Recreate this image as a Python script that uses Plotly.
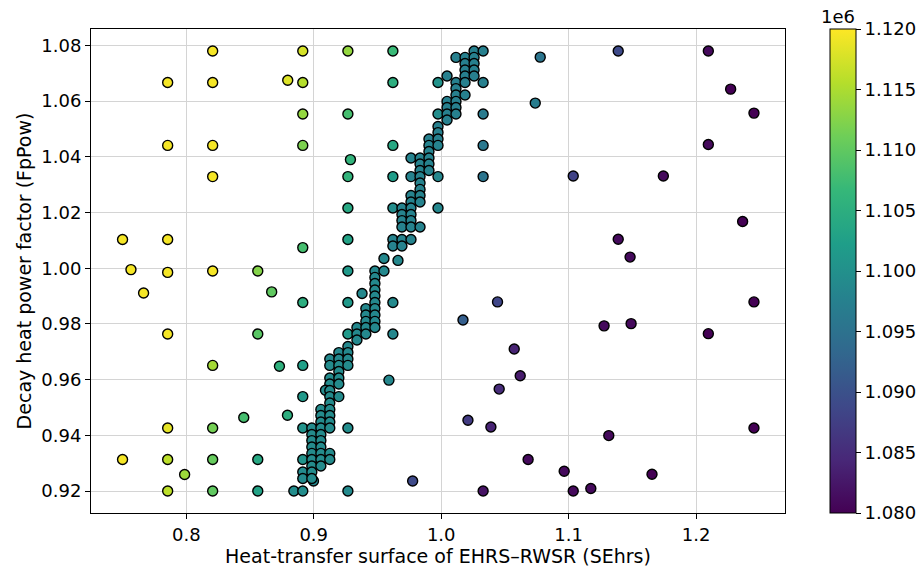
import plotly.graph_objects as go

# ---- data (z values in units of 1e6) ----
outer_x = [0.8207, 0.8914, 0.7854, 0.8207, 0.8796, 0.8914, 0.8914, 0.7854, 0.8207, 0.8914,
           0.8207, 0.7500, 0.7854, 0.8914, 0.7566, 0.7854, 0.8207, 0.8561, 0.7665, 0.8670,
           0.8914, 0.7854, 0.8561, 0.8207, 0.8731, 0.8914, 0.8914, 0.8451, 0.8794, 0.7854,
           0.8207, 0.8914, 0.7500, 0.7854, 0.8207, 0.8561, 0.8914, 0.7987, 0.7854, 0.8207,
           0.8561, 0.8844, 0.8914, 0.8914, 0.8914, 0.8998,
           0.9268, 0.9268, 0.9288, 0.9268, 0.9268, 0.9268, 0.9268, 0.9268, 0.9268, 0.9268, 0.9268,
           0.9621, 0.9621, 0.9621, 0.9621, 0.9621, 0.9621, 0.9621, 0.9590,
           0.9975, 0.9975, 0.9975, 0.9975,
           1.0329, 1.0329, 1.0329, 1.0329, 1.0329,
           1.0777, 1.0738, 1.1389, 1.2096, 1.2271, 1.2454, 1.2096, 1.1036, 1.1743, 1.2365,
           1.1389, 1.1482, 1.2454, 1.1278, 1.1490, 1.2096, 1.0442, 1.0171, 1.0573, 1.0620,
           1.0455, 1.0210, 1.0390, 1.0682, 0.9776, 1.1315, 1.2454, 1.0965, 1.1036, 1.1174, 1.1654]
outer_y = [1.0780, 1.0780, 1.0667, 1.0667, 1.0675, 1.0667, 1.0554, 1.0441, 1.0441, 1.0441,
           1.0329, 1.0103, 1.0103, 1.0074, 0.9995, 0.9985, 0.9990, 0.9990, 0.9911, 0.9915,
           0.9877, 0.9764, 0.9764, 0.9651, 0.9648, 0.9651, 0.9539, 0.9464, 0.9472, 0.9426,
           0.9426, 0.9426, 0.9313, 0.9313, 0.9313, 0.9313, 0.9313, 0.9259, 0.9200, 0.9200,
           0.9200, 0.9200, 0.9200, 0.9268, 0.9245, 0.9236,
           1.0780, 1.0554, 1.0390, 1.0329, 1.0216, 1.0103, 0.9990, 0.9877, 0.9764, 0.9426, 0.9200,
           1.0780, 1.0667, 1.0441, 1.0329, 1.0216, 0.9877, 0.9764, 0.9598,
           1.0667, 1.0554, 1.0329, 1.0216,
           1.0667, 1.0554, 1.0441, 1.0329, 0.9200,
           1.0758, 1.0593, 1.0780, 1.0780, 1.0643, 1.0557, 1.0444, 1.0331, 1.0331, 1.0168,
           1.0104, 1.0040, 0.9879, 0.9793, 0.9801, 0.9765, 0.9879, 0.9814, 0.9710, 0.9614,
           0.9566, 0.9454, 0.9430, 0.9313, 0.9236, 0.9399, 0.9426, 0.9271, 0.9200, 0.9209, 0.9260]
outer_z = [1.1195, 1.1175, 1.1195, 1.1195, 1.1180, 1.1155, 1.1135, 1.1195, 1.1195, 1.1120,
           1.1195, 1.1195, 1.1195, 1.1080, 1.1195, 1.1195, 1.1195, 1.1125, 1.1195, 1.1100,
           1.1050, 1.1195, 1.1095, 1.1145, 1.1055, 1.1025, 1.1015, 1.1080, 1.1050, 1.1185,
           1.1115, 1.1005, 1.1195, 1.1160, 1.1105, 1.1040, 1.1005, 1.1140, 1.1160, 1.1100,
           1.1030, 1.0995, 1.0995, 1.0990, 1.0990, 1.0985,
           1.1135, 1.1080, 1.1060, 1.1060, 1.1040, 1.1030, 1.1015, 1.1015, 1.1015, 1.0995, 1.0990,
           1.1070, 1.1050, 1.1040, 1.1020, 1.0995, 1.0990, 1.0985, 1.0985,
           1.1005, 1.0995, 1.0985, 1.0985,
           1.0975, 1.0965, 1.0960, 1.0955, 1.0820,
           1.0955, 1.0970, 1.0890, 1.0810, 1.0800, 1.0800, 1.0810, 1.0880, 1.0810, 1.0800,
           1.0810, 1.0810, 1.0800, 1.0810, 1.0810, 1.0800, 1.0885, 1.0920, 1.0840, 1.0830,
           1.0850, 1.0870, 1.0840, 1.0810, 1.0890, 1.0810, 1.0800, 1.0810, 1.0810, 1.0810, 1.0800]

# dense Pareto-like band, grouped from top to bottom
band_top_x = [1.0258, 1.0329, 1.0116, 1.0187, 1.0258, 1.0187, 1.0258, 1.0187, 1.0258, 1.0187,
              1.0258, 1.0046, 1.0116, 1.0187, 1.0116, 1.0116, 1.0187, 1.0046, 1.0116, 1.0046,
              1.0116, 1.0046, 1.0116, 1.0046, 0.9975, 0.9975, 0.9904, 0.9975]
band_top_y = [1.0780, 1.0780, 1.0757, 1.0757, 1.0757, 1.0735, 1.0735, 1.0712, 1.0712, 1.0690,
              1.0690, 1.0690, 1.0667, 1.0667, 1.0645, 1.0622, 1.0622, 1.0599, 1.0599, 1.0577,
              1.0577, 1.0554, 1.0554, 1.0532, 1.0509, 1.0487, 1.0464, 1.0464]
band_top_z = 1.0975

band_upper_x = [0.9904, 0.9975, 0.9904, 0.9763, 0.9834, 0.9904, 0.9834, 0.9904, 0.9834, 0.9904,
                0.9763, 0.9834, 0.9834, 0.9834, 0.9763, 0.9834, 0.9763, 0.9834, 0.9692, 0.9763,
                0.9692, 0.9763, 0.9692, 0.9763, 0.9692, 0.9763, 0.9834, 0.9621, 0.9692, 0.9763,
                0.9621, 0.9692]
band_upper_y = [1.0441, 1.0441, 1.0419, 1.0396, 1.0396, 1.0396, 1.0374, 1.0374, 1.0351, 1.0351,
                1.0329, 1.0329, 1.0306, 1.0283, 1.0261, 1.0261, 1.0238, 1.0238, 1.0216, 1.0216,
                1.0193, 1.0193, 1.0171, 1.0171, 1.0148, 1.0148, 1.0148, 1.0103, 1.0103, 1.0103,
                1.0080, 1.0080]
band_upper_z = 1.0980

band_lower_x = [0.9551, 0.9661, 0.9480, 0.9551, 0.9480, 0.9480, 0.9480, 0.9379, 0.9480, 0.9480,
                0.9409, 0.9480, 0.9409, 0.9480, 0.9409, 0.9480, 0.9339, 0.9409, 0.9480, 0.9339,
                0.9409, 0.9339, 0.9268, 0.9197, 0.9268, 0.9126, 0.9197, 0.9268]
band_lower_y = [1.0035, 1.0028, 0.9990, 0.9990, 0.9967, 0.9945, 0.9922, 0.9909, 0.9900, 0.9877,
                0.9855, 0.9855, 0.9832, 0.9832, 0.9809, 0.9809, 0.9787, 0.9787, 0.9787, 0.9764,
                0.9764, 0.9742, 0.9719, 0.9697, 0.9697, 0.9674, 0.9674, 0.9674]
band_lower_z = 1.0988

band_bottom_x = [0.9126, 0.9197, 0.9268, 0.9197, 0.9126, 0.9197, 0.9126, 0.9197, 0.9092, 0.9126,
                 0.9126, 0.9197, 0.9126, 0.9056, 0.9126, 0.9056, 0.9126, 0.9056, 0.9126, 0.8985,
                 0.9056, 0.9126, 0.8985, 0.9056, 0.8985, 0.9056, 0.8985, 0.9056, 0.8985, 0.9056,
                 0.9126, 0.8985, 0.9056, 0.9126, 0.8985, 0.9056, 0.8985, 0.8985]
band_bottom_y = [0.9651, 0.9651, 0.9651, 0.9629, 0.9606, 0.9606, 0.9584, 0.9584, 0.9562, 0.9561,
                 0.9539, 0.9539, 0.9516, 0.9493, 0.9493, 0.9471, 0.9471, 0.9448, 0.9448, 0.9426,
                 0.9426, 0.9426, 0.9403, 0.9403, 0.9381, 0.9381, 0.9358, 0.9358, 0.9335, 0.9335,
                 0.9335, 0.9313, 0.9313, 0.9313, 0.9290, 0.9290, 0.9268, 0.9245]
band_bottom_z = 1.0992

x_ticks = [0.8, 0.9, 1.0, 1.1, 1.2]
y_ticks = [0.92, 0.94, 0.96, 0.98, 1.00, 1.02, 1.04, 1.06, 1.08]
cbar_ticks = [1.080, 1.085, 1.090, 1.095, 1.100, 1.105, 1.110, 1.115, 1.120]
SCALE = 1e6

# ---- assemble ----
xs = list(outer_x)
ys = list(outer_y)
zs = list(outer_z)
for bx, by, bz in [(band_top_x, band_top_y, band_top_z),
                   (band_upper_x, band_upper_y, band_upper_z),
                   (band_lower_x, band_lower_y, band_lower_z),
                   (band_bottom_x, band_bottom_y, band_bottom_z)]:
    xs += bx
    ys += by
    zs += [bz] * len(bx)
zs = [v * SCALE for v in zs]

FONT = "DejaVu Sans"
FS_TICK = 18
FS_TITLE = 19

fig = go.Figure()
fig.add_trace(go.Scatter(
    x=xs, y=ys, mode="markers",
    marker=dict(
        size=10, color=zs, colorscale="Viridis",
        cmin=cbar_ticks[0] * SCALE, cmax=cbar_ticks[-1] * SCALE,
        line=dict(color="black", width=1.4),
        colorbar=dict(
            x=1.0655, xanchor="left", xpad=0, y=0.5, yanchor="middle", len=1.0,
            lenmode="fraction", ypad=0, thickness=26, thicknessmode="pixels",
            outlinewidth=1, outlinecolor="black",
            tickvals=[t * SCALE for t in cbar_ticks],
            ticktext=[f"{t:.3f}" for t in cbar_ticks],
            ticks="outside", ticklen=5, tickwidth=1, tickcolor="black",
            tickfont=dict(family=FONT, size=FS_TICK, color="black"),
        ),
    ),
    showlegend=False,
    hoverinfo="skip",
))

fig.add_annotation(
    text="1e6", xref="paper", yref="paper", x=1.076, y=1.0, xanchor="center",
    yanchor="bottom", yshift=0, showarrow=False,
    font=dict(family=FONT, size=FS_TICK, color="black"),
)

axis_common = dict(
    showline=True, linecolor="black", linewidth=1, mirror=True,
    showgrid=True, gridcolor="#d4d4d4", gridwidth=1.3,
    ticks="outside", ticklen=5, tickwidth=1, tickcolor="black",
    tickfont=dict(family=FONT, size=FS_TICK, color="black"),
    zeroline=False, automargin=False,
)

fig.update_layout(
    width=921, height=568,
    margin=dict(l=91, r=136, t=29, b=55, autoexpand=False),
    paper_bgcolor="white", plot_bgcolor="white",
    font=dict(family=FONT, size=FS_TICK, color="black"),
    xaxis=dict(
        range=[0.72525, 1.26975], tickvals=x_ticks,
        ticktext=[f"{t:.1f}" for t in x_ticks],
        title=dict(text="Heat-transfer surface of EHRS\u2013RWSR (SEhrs)",
                   font=dict(family=FONT, size=FS_TITLE), standoff=2),
        **axis_common,
    ),
    yaxis=dict(
        range=[0.9121, 1.0859], tickvals=y_ticks,
        ticktext=[f"{t:.2f}" for t in y_ticks],
        title=dict(text="Decay heat power factor (FpPow)",
                   font=dict(family=FONT, size=FS_TITLE), standoff=4),
        **axis_common,
    ),
)

fig.write_html("out.html")
